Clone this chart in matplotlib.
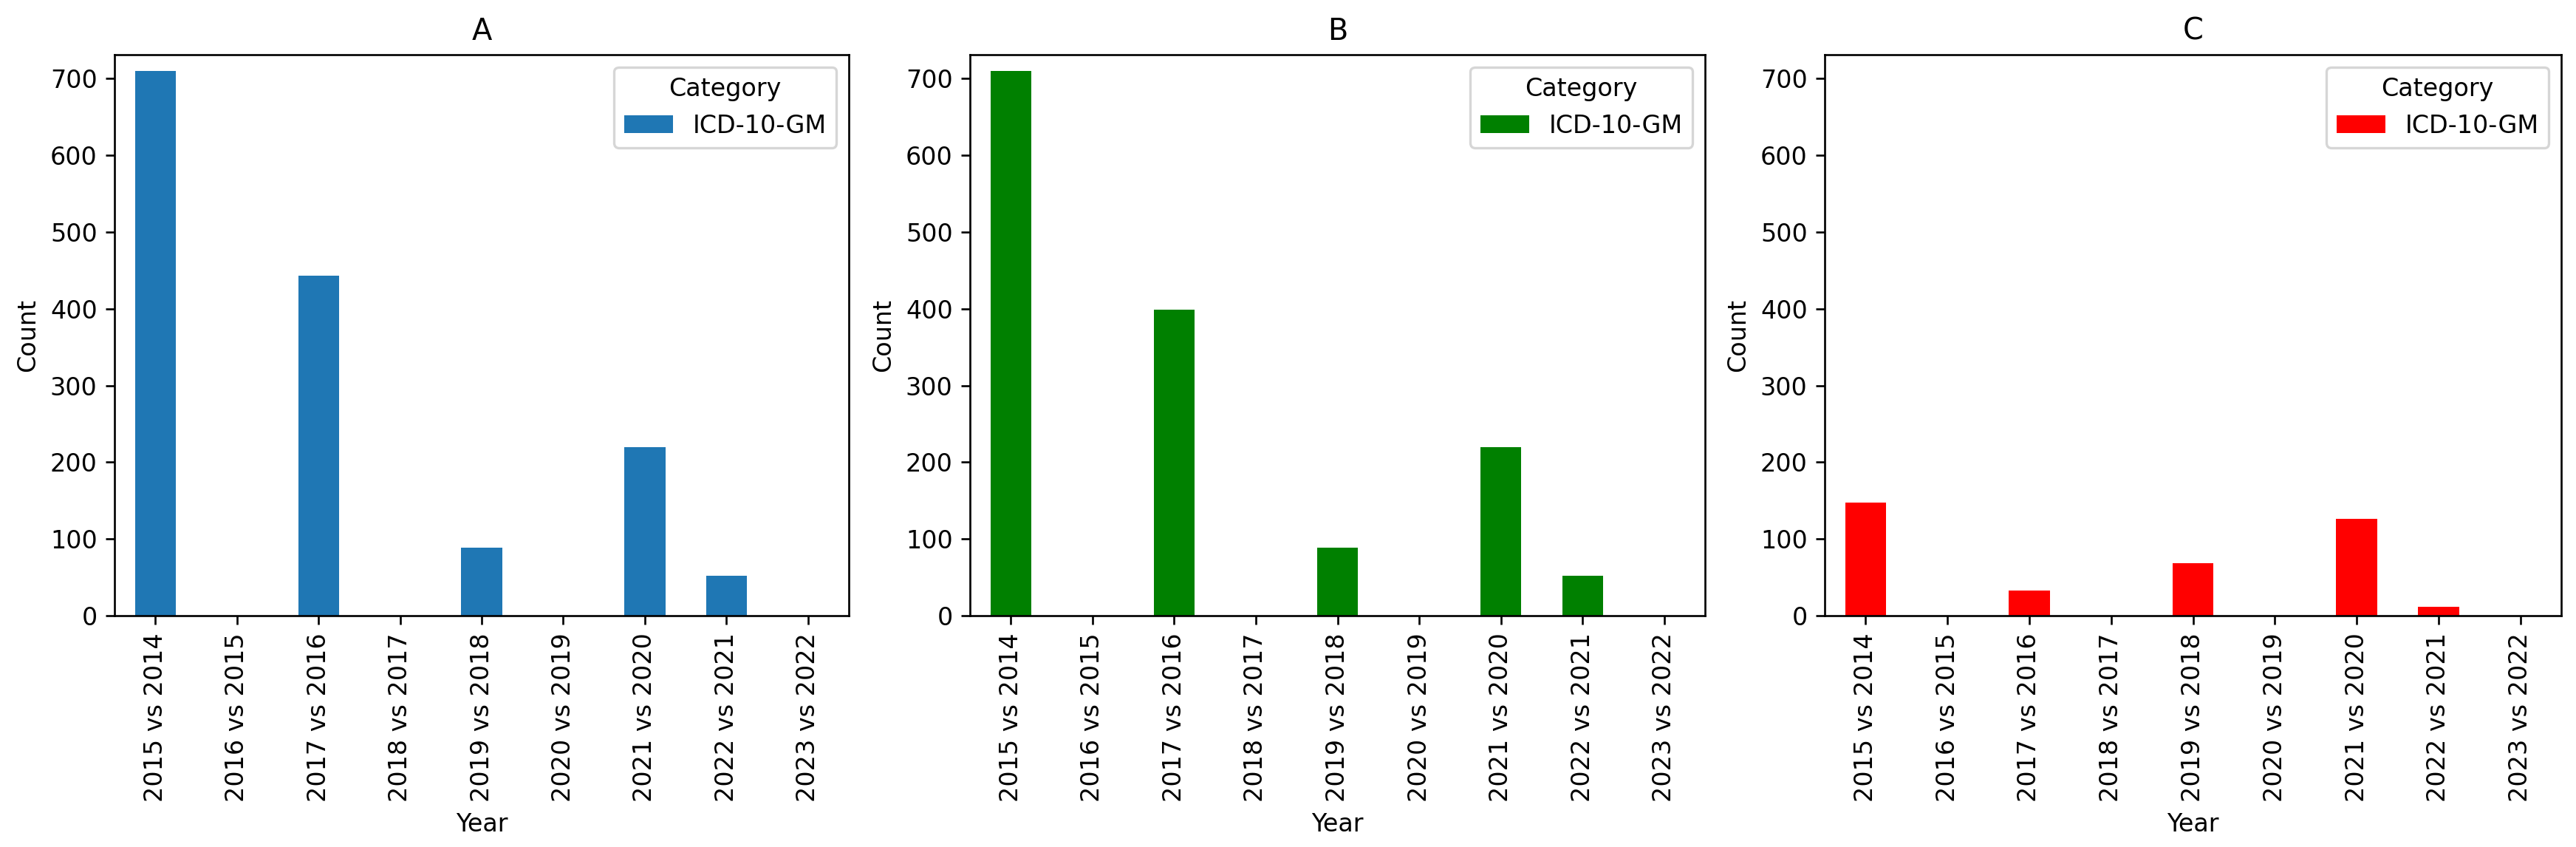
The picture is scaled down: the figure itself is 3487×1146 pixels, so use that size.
import matplotlib
matplotlib.use("Agg")
import matplotlib.pyplot as plt
import numpy as np

categories = ["2015 vs 2014", "2016 vs 2015", "2017 vs 2016", "2018 vs 2017",
              "2019 vs 2018", "2020 vs 2019", "2021 vs 2020", "2022 vs 2021",
              "2023 vs 2022"]
values_a = [710, 0, 443, 0, 89, 0, 220, 52, 0]
values_b = [710, 0, 399, 0, 89, 0, 220, 52, 0]
values_c = [147, 0, 33, 0, 68, 0, 126, 12, 0]
titles = ["A", "B", "C"]
colors = ["#1f77b4", "green", "red"]
series_label = "ICD-10-GM"
legend_title = "Category"
yticks = [0, 100, 200, 300, 400, 500, 600, 700]

DPI = 240
fig = plt.figure(figsize=(3487 / DPI, 1146 / DPI), dpi=DPI)
lefts = [155 / 3487, 1313 / 3487, 2470 / 3487]
rights = [1149 / 3487, 2308 / 3487, 3467 / 3487]
top = 1 - 74 / 1146
bottom = 1 - 833 / 1146

x = np.arange(len(categories))
for i, (vals, title, col) in enumerate(zip([values_a, values_b, values_c], titles, colors)):
    ax = fig.add_axes([lefts[i], bottom, rights[i] - lefts[i], top - bottom])
    ax.bar(x, vals, width=0.5, color=col, label=series_label)
    ax.set_xlim(-0.5, len(categories) - 0.5)
    ax.set_ylim(0, 731)
    ax.set_yticks(yticks)
    ax.set_xticks(x)
    ax.set_xticklabels(categories, rotation=90)
    ax.set_title(title)
    ax.set_xlabel("Year")
    ax.set_ylabel("Count")
    ax.legend(title=legend_title, loc="upper right")

fig.savefig("out.png", dpi=DPI)
